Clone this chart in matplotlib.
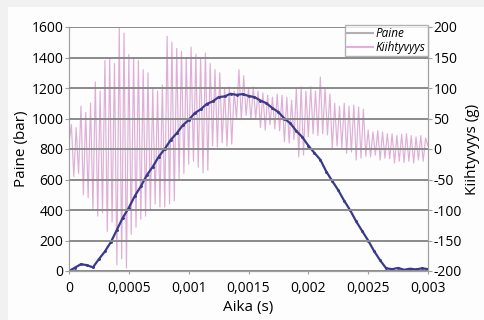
import numpy as np
import matplotlib
matplotlib.use("Agg")
import matplotlib.pyplot as plt
from matplotlib.lines import Line2D
from matplotlib.patches import Rectangle

plt.rcParams['font.family'] = ['Open Sans', 'DejaVu Sans']

# ---- data ----
# Pressure (bar), sampled every 0.00005 s from 0 to 0.003 s
pressure = [0, 22, 45, 38, 24, 78, 128, 190, 270, 350,
            415, 492, 555, 628, 684, 750, 800, 860, 903, 955,
            990, 1035, 1060, 1095, 1112, 1140, 1145, 1162, 1155, 1160,
            1148, 1140, 1118, 1100, 1068, 1042, 1000, 968, 918, 878,
            822, 775, 730, 652, 590, 530, 460, 398, 325, 262,
            200, 130, 70, 18, 12, 20, 8, 15, 10, 18, 12]

# Acceleration (g), alternating peaks every 0.00002 s from 0 to 0.003 s
acceleration = [
    10, 40, -45, 35, -40,
    70, -75, 60, -80, 75,
    -100, 110, -110, 95, -105,
    145, -135, 150, -120, 140,
    -190, 198, -180, 190, -195,
    155, -140, 150, -128, 145,
    -115, 130, -110, 125, -100,
    100, -90, 95, -95, 105,
    -95, 185, -90, 175, -85,
    165, -50, 160, -40, 150,
    -25, 167, -20, 155, -30,
    150, -39, 157, -35, 140,
    5, 130, 3, 125, 10,
    100, 5, 102, 8, 95,
    50, 130, 48, 120, 55,
    100, 48, 102, 50, 95,
    35, 92, 31, 88, 40,
    85, 33, 90, 30, 88,
    12, 85, 10, 80, 15,
    100, -13, 102, -10, 95,
    20, 102, 25, 95, 22,
    118, 25, 100, 23, 90,
    0, 75, 5, 70, 2,
    75, -7, 70, -5, 72,
    -18, 69, -15, 65, -12,
    31, -13, 28, -10, 30,
    -18, 28, -15, 25, -16,
    25, -23, 22, -20, 24,
    -22, 25, -20, 22, -23,
    20, -18, 22, -20, 18,
    5]

x_ticks = [0, 0.0005, 0.001, 0.0015, 0.002, 0.0025, 0.003]
x_tick_labels = ["0", "0,0005", "0,001", "0,0015", "0,002", "0,0025", "0,003"]
left_ticks = [0, 200, 400, 600, 800, 1000, 1200, 1400, 1600]
right_ticks = [-200, -150, -100, -50, 0, 50, 100, 150, 200]

t_p = np.linspace(0, 0.003, len(pressure))
t_a = np.linspace(0, 0.003, len(acceleration))

# ---- figure ----
fig = plt.figure(figsize=(4.84, 3.2), dpi=100, facecolor='#f1f1f1')
fig.patches.append(Rectangle((8/484, 0), 1, 1 - 7/320, transform=fig.transFigure,
                             facecolor='#fdfdfd', edgecolor='none', zorder=-10))
ax = fig.add_axes([69/484, 1 - 271/320, (428-69)/484, (271-27)/320])
ax2 = ax.twinx()

ax2.plot(t_a, acceleration, color='#dba6d3', lw=0.85, alpha=0.9)
ax2.set_ylim(-200, 200)
ax2.set_yticks(right_ticks)
ax2.set_yticklabels([str(v) for v in right_ticks])

ax.set_zorder(ax2.get_zorder() + 1)
ax.patch.set_visible(False)
ax2.patch.set_facecolor('white')

ax.plot(t_p, pressure, color='#3a3a8c', lw=1.6, marker='.', ms=2.2)
ax.set_xlim(0, 0.003)
ax.set_ylim(0, 1600)
ax.set_yticks(left_ticks)
ax.set_xticks(x_ticks)
ax.set_xticklabels(x_tick_labels)
ax.grid(axis='y', color='#8a8a8a', lw=1.4)
ax.set_axisbelow(False)

for a in (ax, ax2):
    for s in a.spines.values():
        s.set_color('#a0a0a0')
    a.tick_params(labelsize=10, length=3, color='#a0a0a0', pad=1)
ax.tick_params(axis='x', pad=5, length=2)
ax.spines['top'].set_visible(False)
ax2.spines['top'].set_visible(False)

ax.set_ylabel("Paine (bar)", fontsize=11, labelpad=2)
ax2.set_ylabel("Kiihtyvyys (g)", fontsize=11, labelpad=2)
ax.set_xlabel("Aika (s)", fontsize=11, labelpad=3)

handles = [Line2D([], [], color='#b0b0b0', lw=1.5),
           Line2D([], [], color='#e0b0d8', lw=1.5)]
leg = ax.legend(handles, ["Paine", "Kiihtyvyys"], loc='upper right',
                bbox_to_anchor=(1.0, 1.01), fontsize=8.5, frameon=True,
                fancybox=False, borderpad=0.2, handlelength=2.2,
                handletextpad=0.2, labelspacing=0.1, borderaxespad=0)
leg.get_frame().set_edgecolor('#a0a0a0')
leg.get_frame().set_facecolor('white')
for txt in leg.get_texts():
    txt.set_fontstyle('italic')

fig.savefig("out.png", dpi=100, facecolor=fig.get_facecolor())
